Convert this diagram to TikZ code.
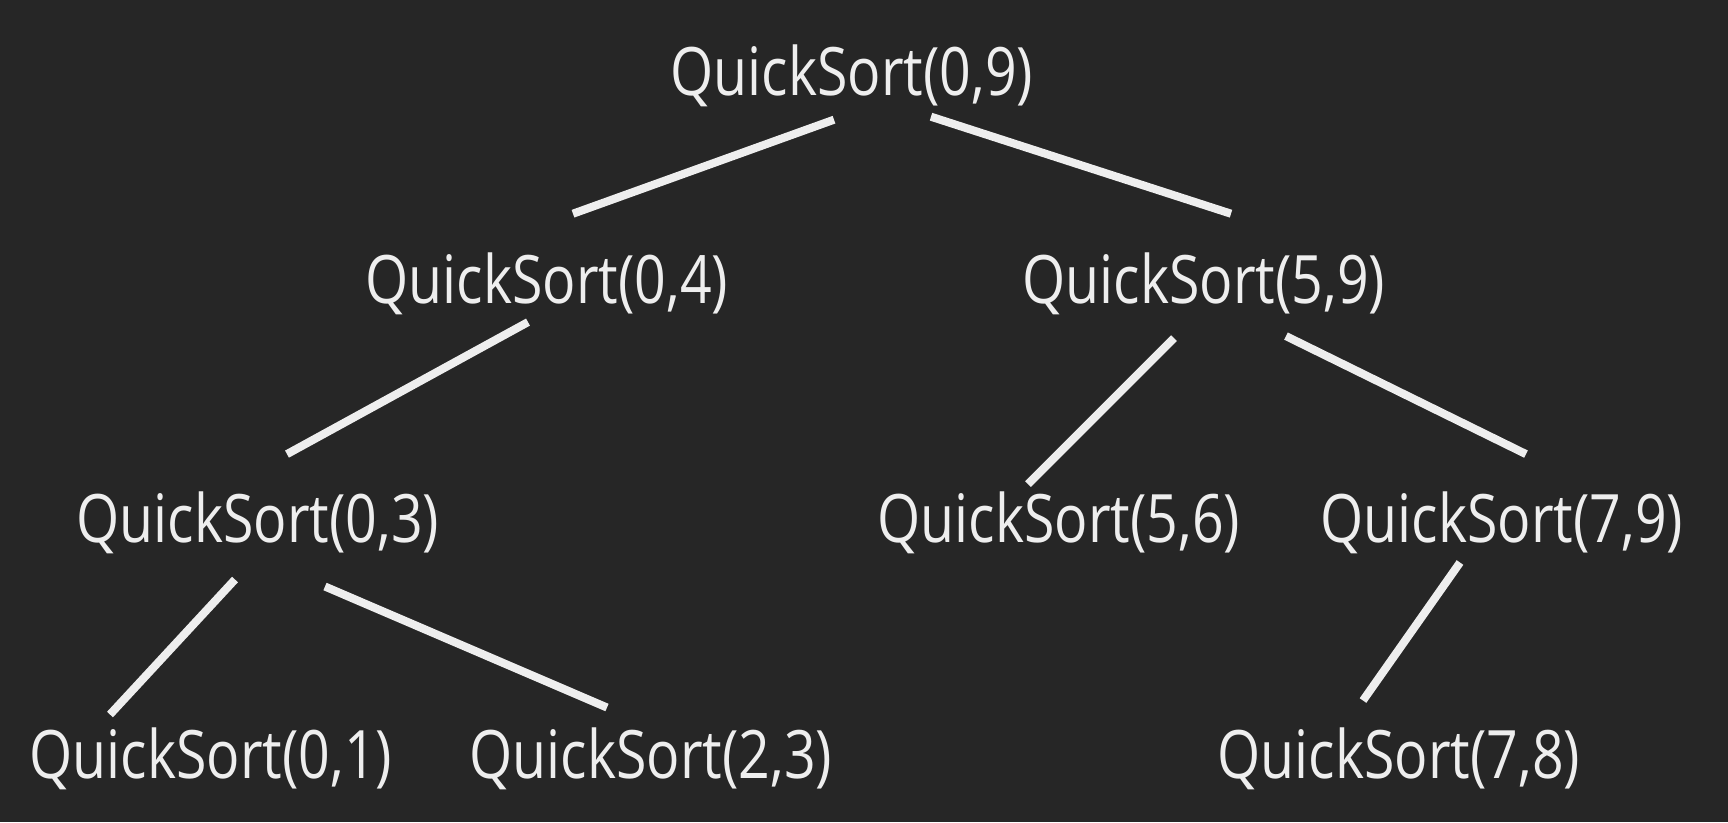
\documentclass[tikz,border=0pt]{standalone}
\usepackage{fontspec}
\setmainfont{Open Sans}[FakeStretch=0.83]
\usepackage{xcolor}
\usetikzlibrary{positioning,calc}
\definecolor{boardcolor}{RGB}{38,38,38}
\definecolor{chalkcolor}{RGB}{238,238,238}

\begin{document}
\begin{tikzpicture}[
    call/.style={text=chalkcolor, font=\fontsize{19pt}{22pt}\selectfont, inner sep=0pt, text height=0.55cm, text depth=0.15cm},
    edge/.style={draw=chalkcolor, line width=2.3pt}
]

% Chalkboard
\fill[boardcolor] (0,0) rectangle (17.28,-8.22);
\useasboundingbox (0,0) rectangle (17.28,-8.22);

% Root call
\node[call, anchor=base] (q09) at (8.52,-0.95) {QuickSort(0,9)};

% First split
\node[call, below=1.37cm of q09, xshift=-3.05cm] (q04) {QuickSort(0,4)};
\node[call, below=1.37cm of q09, xshift=3.52cm] (q59) {QuickSort(5,9)};

% Second split
\node[call, below=1.68cm of q04, xshift=-2.89cm] (q03) {QuickSort(0,3)};
\node[call, below=1.68cm of q59, xshift=-1.45cm] (q56) {QuickSort(5,6)};
\node[call, below=1.68cm of q59, xshift=2.98cm] (q79) {QuickSort(7,9)};

% Third split
\node[call, below=1.64cm of q03, xshift=-0.47cm] (q01) {QuickSort(0,1)};
\node[call, below=1.64cm of q03, xshift=3.93cm] (q23) {QuickSort(2,3)};
\node[call, below=1.64cm of q79, xshift=-1.03cm] (q78) {QuickSort(7,8)};

% Chalk lines
\draw[edge] ([shift={(-0.18,-0.09)}]q09.south) -- ([shift={(0.26,0.34)}]q04.north);
\draw[edge] ([shift={(0.79,-0.06)}]q09.south) -- ([shift={(0.27,0.34)}]q59.north);
\draw[edge] ([shift={(-0.19,-0.03)}]q04.south) -- ([shift={(0.29,0.33)}]q03.north);
\draw[edge] ([shift={(-0.30,-0.19)}]q59.south) -- ([shift={(-0.31,0.03)}]q56.north);
\draw[edge] ([shift={(0.82,-0.17)}]q59.south) -- ([shift={(0.24,0.33)}]q79.north);
\draw[edge] ([shift={(-0.23,-0.21)}]q03.south) -- ([shift={(-1.01,0.08)}]q01.north);
\draw[edge] ([shift={(0.67,-0.28)}]q03.south) -- ([shift={(-0.44,0.15)}]q23.north);
\draw[edge] ([shift={(-0.42,-0.04)}]q79.south) -- ([shift={(-0.36,0.22)}]q78.north);

\end{tikzpicture}
\end{document}
